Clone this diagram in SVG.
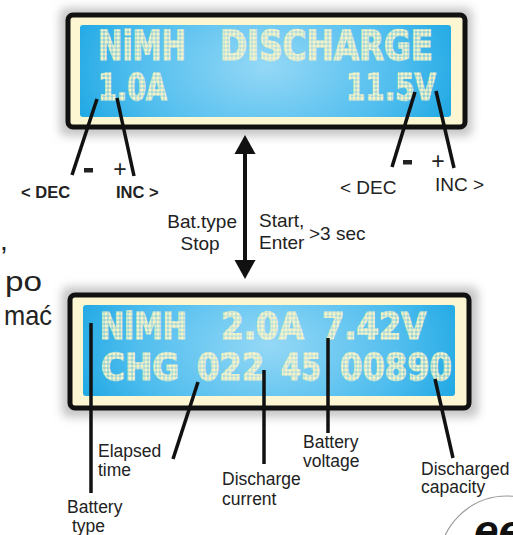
<svg xmlns="http://www.w3.org/2000/svg" width="513" height="535" viewBox="0 0 513 535">
<defs>
<style>
.lbl{font-family:"Liberation Sans",Arial,sans-serif;fill:#222}
.lcd{font-family:"DejaVu Sans",sans-serif;font-weight:bold;fill:url(#dots);stroke:url(#dots);stroke-width:1.6}
.ptr{stroke:#111;stroke-width:3.5;fill:none;stroke-linecap:butt}
.frame{fill:#fcf7d2;stroke:#111;stroke-width:5}
</style>
<pattern id="dots" patternUnits="userSpaceOnUse" width="4" height="4">
<rect x="0.3" y="0.3" width="3.4" height="3.4" fill="#f6f3c6"/>
</pattern>
<radialGradient id="scr" cx="0.5" cy="0.45" r="0.6" gradientTransform="translate(0.5 0.45) scale(1 2.5) translate(-0.5 -0.45)">
<stop offset="0" stop-color="#95d8f6"/>
<stop offset="0.6" stop-color="#4fbdee"/>
<stop offset="1" stop-color="#12a2e1"/>
</radialGradient>
<filter id="sh" x="-10%" y="-20%" width="120%" height="140%">
<feGaussianBlur stdDeviation="5"/>
</filter>
</defs>
<rect width="513" height="535" fill="#fff"/>

<g id="display-top">
<rect x="60" y="8" width="412" height="128" rx="6" fill="#c4c4c4" filter="url(#sh)"/>
<rect class="frame" x="68" y="15" width="397" height="112" rx="5"/>
<rect x="80" y="25" width="371" height="92" rx="3" fill="url(#scr)"/>
<text class="lcd" x="98" y="60" font-size="40" textLength="88" lengthAdjust="spacingAndGlyphs">NiMH</text>
<text class="lcd" x="220" y="60" font-size="40" textLength="213" lengthAdjust="spacingAndGlyphs">DISCHARGE</text>
<text class="lcd" x="98" y="100" font-size="38" textLength="69" lengthAdjust="spacingAndGlyphs">1.0A</text>
<text class="lcd" x="346" y="100" font-size="38" textLength="90" lengthAdjust="spacingAndGlyphs">11.5V</text>
</g>

<g id="display-bottom">
<rect x="62" y="287" width="416" height="130" rx="6" fill="#c4c4c4" filter="url(#sh)"/>
<rect class="frame" x="70" y="295" width="399" height="113" rx="5"/>
<rect x="83" y="305" width="372" height="91" rx="3" fill="url(#scr)"/>
<text class="lcd" x="100" y="339" font-size="38" textLength="87" lengthAdjust="spacingAndGlyphs">NiMH</text>
<text class="lcd" x="221" y="339" font-size="38" textLength="83" lengthAdjust="spacingAndGlyphs">2.0A</text>
<text class="lcd" x="322" y="339" font-size="38" textLength="104" lengthAdjust="spacingAndGlyphs">7.42V</text>
<text class="lcd" x="101" y="380" font-size="38" textLength="78" lengthAdjust="spacingAndGlyphs">CHG</text>
<text class="lcd" x="197" y="380" font-size="38" textLength="67" lengthAdjust="spacingAndGlyphs">022</text>
<text class="lcd" x="281" y="380" font-size="38" textLength="40" lengthAdjust="spacingAndGlyphs">45</text>
<text class="lcd" x="340" y="380" font-size="38" textLength="112" lengthAdjust="spacingAndGlyphs">00890</text>
</g>

<g id="connectors">
<line class="ptr" x1="97" y1="99" x2="72" y2="175"/>
<line class="ptr" x1="117" y1="98" x2="134" y2="176"/>
<line class="ptr" x1="415" y1="92" x2="392" y2="167"/>
<line class="ptr" x1="436" y1="91" x2="454" y2="168"/>
<line x1="245" y1="152" x2="245" y2="262" stroke="#111" stroke-width="4"/>
<path d="M245,135 L234.5,154 L255.5,154 Z" fill="#111"/>
<path d="M245,279 L234.5,260 L255.5,260 Z" fill="#111"/>
<line class="ptr" x1="91" y1="323" x2="91" y2="493"/>
<line class="ptr" x1="198" y1="382" x2="173" y2="459"/>
<line class="ptr" x1="264" y1="370" x2="264" y2="464"/>
<line class="ptr" x1="328" y1="338" x2="328" y2="433"/>
<line class="ptr" x1="435" y1="379" x2="453" y2="458"/>
</g>

<g id="labels-top">
<rect x="84" y="168" width="9" height="4.5" fill="#222"/>
<text class="lbl" x="120" y="177" font-size="23" text-anchor="middle">+</text>
<text class="lbl" x="21" y="198" font-size="16.5" font-weight="bold">&lt; DEC</text>
<text class="lbl" x="116" y="198" font-size="16.5" font-weight="bold">INC &gt;</text>
<rect x="403" y="160" width="9" height="4.5" fill="#222"/>
<text class="lbl" x="438" y="169" font-size="23" text-anchor="middle">+</text>
<text class="lbl" x="340" y="194" font-size="19">&lt; DEC</text>
<text class="lbl" x="435" y="191" font-size="19">INC &gt;</text>
</g>

<g id="labels-arrow">
<text class="lbl" x="237" y="228" font-size="19" text-anchor="end">Bat.type</text>
<text class="lbl" x="200" y="250" font-size="19" text-anchor="middle">Stop</text>
<text class="lbl" x="259" y="227" font-size="19">Start,</text>
<text class="lbl" x="259" y="249" font-size="19">Enter</text>
<text class="lbl" x="309" y="240" font-size="19">&gt;3 sec</text>
</g>

<g id="labels-left">
<text class="lbl" x="0" y="250" font-size="28">,</text>
<text class="lbl" x="5" y="291" font-size="28" textLength="37" lengthAdjust="spacingAndGlyphs">po</text>
<text class="lbl" x="4" y="325" font-size="28" textLength="48" lengthAdjust="spacingAndGlyphs">mać</text>
</g>

<g id="labels-bottom">
<text class="lbl" font-size="17.5"><tspan x="67" y="513">Battery</tspan><tspan x="72" y="532">type</tspan></text>
<text class="lbl" font-size="17.5"><tspan x="98" y="457">Elapsed</tspan><tspan x="98" y="476">time</tspan></text>
<text class="lbl" font-size="17.5"><tspan x="222" y="485">Discharge</tspan><tspan x="222" y="505">current</tspan></text>
<text class="lbl" font-size="17.5"><tspan x="303" y="448">Battery</tspan><tspan x="303" y="467">voltage</tspan></text>
<text class="lbl" font-size="17.5"><tspan x="421" y="475">Discharged</tspan><tspan x="421" y="493">capacity</tspan></text>
</g>

<g id="logo">
<circle cx="507" cy="564" r="68" fill="none" stroke="#999" stroke-width="1.2"/>
<text x="474" y="546" font-family="Liberation Sans, Arial, sans-serif" font-size="44" font-weight="bold" font-style="italic" fill="#111">ee</text>
</g>
</svg>
